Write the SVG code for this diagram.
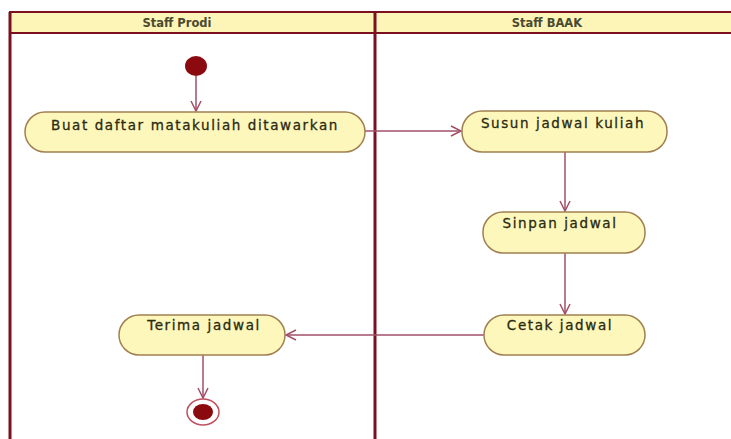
<svg xmlns="http://www.w3.org/2000/svg" width="731" height="439" viewBox="0 0 731 439">
<style>
.lane{fill:none;stroke:#7a1020;stroke-width:3}
.hdr{fill:#fdf5b8;stroke:#7a1020;stroke-width:2}
.ht{font-family:"DejaVu Sans",sans-serif;font-size:11.5px;font-weight:bold;fill:#4a4a30;text-anchor:middle}
.act{fill:#fdf7bc;stroke:#a08050;stroke-width:1.5}
.at{font-family:"DejaVu Sans",sans-serif;font-size:13.5px;letter-spacing:1.6px;fill:#2a2a10;text-anchor:middle;stroke:#2a2a10;stroke-width:0.3}
.con{fill:none;stroke:#a05068;stroke-width:1.5}
</style>
<defs>
<marker id="arr" markerWidth="14" markerHeight="14" refX="11" refY="6" orient="auto" markerUnits="userSpaceOnUse">
<path d="M1,1 L11,6 L1,11" fill="none" stroke="#a05068" stroke-width="1.5"/>
</marker>
</defs>
<rect width="731" height="439" fill="#ffffff"/>
<g id="swimlanes">
<rect class="hdr" x="10" y="12" width="730" height="21"/>
<line class="lane" x1="10" y1="12" x2="10" y2="445"/>
<line class="lane" x1="375" y1="12" x2="375" y2="445"/>
<line x1="10" y1="12" x2="731" y2="12" stroke="#7a1020" stroke-width="2"/>
<text class="ht" x="177" y="27">Staff Prodi</text>
<text class="ht" x="547" y="27">Staff BAAK</text>
</g>
<g id="connectors">
<line class="con" x1="196" y1="76" x2="196" y2="111" marker-end="url(#arr)" stroke="#7a1020"/>
<line class="con" x1="365" y1="131" x2="461" y2="131" marker-end="url(#arr)"/>
<line class="con" x1="565" y1="152" x2="565" y2="211" marker-end="url(#arr)"/>
<line class="con" x1="565" y1="253" x2="565" y2="314" marker-end="url(#arr)"/>
<line class="con" x1="484" y1="335" x2="286" y2="335" marker-end="url(#arr)"/>
<line class="con" x1="203" y1="355" x2="203" y2="398" marker-end="url(#arr)" stroke="#7a1020"/>
</g>
<g id="start">
<ellipse cx="196" cy="66" rx="11" ry="10" fill="#8b0a10"/>
</g>
<g id="buat">
<rect class="act" x="25" y="112" width="340" height="40" rx="20"/>
<text class="at" x="195" y="130">Buat daftar matakuliah ditawarkan</text>
</g>
<g id="susun">
<rect class="act" x="462" y="111" width="205" height="41" rx="20"/>
<text class="at" x="563" y="128">Susun jadwal kuliah</text>
</g>
<g id="simpan">
<rect class="act" x="483" y="212" width="162" height="41" rx="20"/>
<text class="at" x="560" y="228">Sinpan jadwal</text>
</g>
<g id="cetak">
<rect class="act" x="484" y="315" width="161" height="40" rx="20"/>
<text class="at" x="560" y="330">Cetak jadwal</text>
</g>
<g id="terima">
<rect class="act" x="119" y="315" width="166" height="40" rx="20"/>
<text class="at" x="204" y="330">Terima jadwal</text>
</g>
<g id="end">
<ellipse cx="203" cy="412" rx="16" ry="13" fill="#ffffff" stroke="#c05060" stroke-width="1.5"/>
<ellipse cx="203" cy="412" rx="10" ry="8" fill="#8b0a10"/>
</g>
</svg>
